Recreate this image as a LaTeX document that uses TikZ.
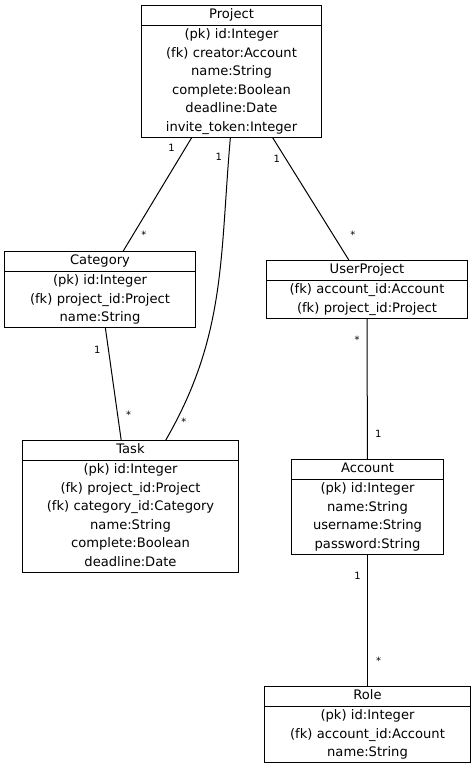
\documentclass[tikz,border=0pt]{standalone}
\usepackage{fontspec}
\setmainfont{DejaVu Sans}
\usetikzlibrary{shapes.multipart}
\tikzstyle{entity} = [draw, line width=1pt, rectangle split, rectangle split parts=2, anchor=north west, inner xsep=0pt, inner ysep=0pt, align=center, font=\fontsize{13.1}{18.55}\selectfont]
\tikzstyle{mult} = [font=\fontsize{10}{12}\selectfont, inner sep=0pt]
\tikzstyle{link} = [line width=1pt]
\newcommand{\attr}[1]{\strut #1}

\begin{document}
\begin{tikzpicture}
    \useasboundingbox (0,0) rectangle (475pt,-768pt);
    % tables
    \node[entity, text width=180pt] (project) at (141pt,-5pt) {\attr{Project}
        \nodepart{two}\attr{(pk) id:Integer}\\\attr{(fk) creator:Account}\\\attr{name:String}\\\attr{complete:Boolean}\\\attr{deadline:Date}\\\attr{invite\_token:Integer}};
    \node[entity, text width=191pt] (category) at (4pt,-251pt) {\attr{Category}
        \nodepart{two}\attr{(pk) id:Integer}\\\attr{(fk) project\_id:Project}\\\attr{name:String}};
    \node[entity, text width=201pt] (userproject) at (266pt,-260pt) {\attr{UserProject}
        \nodepart{two}\attr{(fk) account\_id:Account}\\\attr{(fk) project\_id:Project}};
    \node[entity, text width=216pt] (task) at (22pt,-440pt) {\attr{Task}
        \nodepart{two}\attr{(pk) id:Integer}\\\attr{(fk) project\_id:Project}\\\attr{(fk) category\_id:Category}\\\attr{name:String}\\\attr{complete:Boolean}\\\attr{deadline:Date}};
    \node[entity, text width=152pt] (account) at (291pt,-459pt) {\attr{Account}
        \nodepart{two}\attr{(pk) id:Integer}\\\attr{name:String}\\\attr{username:String}\\\attr{password:String}};
    \node[entity, text width=206pt] (role) at (264pt,-686pt) {\attr{Role}
        \nodepart{two}\attr{(pk) id:Integer}\\\attr{(fk) account\_id:Account}\\\attr{name:String}};
    % relations
    \draw[link] (project) -- (category) node[mult, pos=0.088, xshift=-14pt] {1} node[mult, pos=0.86, xshift=11pt] {*};
    \draw[link] (project.-91) to[out=-95, in=60] node[mult, pos=0.053, xshift=-10pt] {1} node[mult, pos=0.94, xshift=8pt] {*} (task.62);
    \draw[link] (project) -- (userproject) node[mult, pos=0.17, xshift=-9pt] {1} node[mult, pos=0.79, xshift=20pt] {*};
    \draw[link] (category) -- (task) node[mult, pos=0.19, xshift=-11pt] {1} node[mult, pos=0.77, xshift=11pt] {*};
    \draw[link] (userproject) -- (account) node[mult, pos=0.15, xshift=-10pt] {*} node[mult, pos=0.82, xshift=11pt] {1};
    \draw[link] (account) -- (role) node[mult, pos=0.16, xshift=-10pt] {1} node[mult, pos=0.81, xshift=11pt] {*};
\end{tikzpicture}
\end{document}
